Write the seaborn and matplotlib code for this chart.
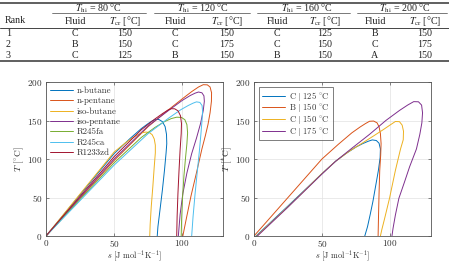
import matplotlib
matplotlib.use("Agg")
import matplotlib.pyplot as plt
import pandas as pd
import seaborn as sns
from matplotlib.lines import Line2D

# ---------------- table data ----------------
rank = [1, 2, 3]
t_hi = [80, 120, 160, 200]
fluid_80 = ["C", "B", "C"]
tcr_80 = [150, 150, 125]
fluid_120 = ["C", "C", "B"]
tcr_120 = [150, 175, 150]
fluid_160 = ["C", "C", "B"]
tcr_160 = [125, 150, 150]
fluid_200 = ["B", "C", "A"]
tcr_200 = [150, 175, 150]

# ---------------- left plot data (T-s domes) ----------------
left_names = ["n-butane", "n-pentane", "iso-butane", "iso-pentane", "R245fa", "R245ca", "R1233zd"]
nbutane_s = [0, 25, 50, 62, 70, 75, 78, 80.5, 83, 85.5, 87.5, 88.5, 88.7, 88.2, 87, 85.5, 83.8, 82.2, 81.7]
nbutane_T = [0, 53.5, 107, 127, 139.5, 146, 149.5, 151.5, 151.2, 148.5, 142, 132, 120, 108, 85, 60, 35, 12, 0]
npentane_s = [0, 25, 50, 75, 90, 100, 107, 112, 115.5, 118.5, 120.5, 121.6, 121.5, 120.5, 119, 117, 114.5, 110.5, 106.5, 103, 100.5]
npentane_T = [0, 49, 98, 142, 164, 178, 187.5, 193.5, 196.5, 196.3, 193.5, 186, 175, 160, 145, 130, 113, 82, 52, 22, 0]
isobutane_s = [0, 25, 50, 58, 64, 68, 71, 73.5, 76, 78, 79.5, 80.3, 80.3, 79.5, 78.5, 77.3, 76.5, 76.2]
isobutane_T = [0, 54.5, 109, 120.5, 128, 132, 134.3, 135, 134.3, 131.5, 126, 118, 108, 90, 65, 38, 15, 0]
isopentane_s = [0, 25, 50, 75, 90, 100, 106, 109.5, 112, 114.5, 116, 116.3, 115.5, 113.5, 110.5, 107, 103.5, 100.5, 98.5, 97.2]
isopentane_T = [0, 50, 100, 143, 163, 176, 182.5, 185.5, 187, 186, 182, 175, 163, 146, 127, 107, 82, 55, 28, 0]
r245fa_s = [0, 25, 50, 70, 80, 87, 92, 96, 99.5, 102, 103.5, 104, 103.5, 102.5, 101.3, 100.3, 99.6, 99.3]
r245fa_T = [0, 47.5, 95, 128, 141, 148.5, 152.5, 154.3, 154, 151, 144.5, 134, 120, 102, 78, 50, 22, 0]
r245ca_s = [0, 25, 50, 75, 90, 99, 104.5, 108, 110.5, 113, 114.6, 115, 114.6, 113.8, 112.8, 111.2, 109.5, 108, 107]
r245ca_T = [0, 46, 92, 133, 153, 164, 169.5, 172.5, 174.2, 173.5, 169.5, 162, 150, 133, 113, 85, 55, 25, 0]
r1233zd_s = [0, 25, 50, 70, 80, 86, 89.5, 92, 94.5, 97, 98.8, 99.5, 99.3, 98.5, 97.7, 96.9, 96.3, 96]
r1233zd_T = [0, 51.5, 103, 138, 152, 159.5, 163.5, 165.3, 165.2, 162.5, 156, 146, 133, 112, 85, 55, 25, 0]

# ---------------- right plot data ----------------
right_names = ["C | 125 °C", "B | 150 °C", "C | 150 °C", "C | 175 °C"]
c125_s = [1.5, 25, 50, 60, 68, 75, 80, 84, 87, 90, 92, 93, 92.8, 91.5, 89.5, 87.5, 85.5, 83.5, 81.5]
c125_T = [0, 39, 81, 97, 107.5, 115.5, 120, 123, 124.8, 124, 120.5, 113, 102, 85, 65, 45, 28, 12, 0]
b150_s = [0, 25, 50, 62, 72, 78, 82, 85, 88, 90.5, 92, 93, 93.5, 93.2, 92.5, 92, 91.6, 91.3]
b150_T = [0, 50, 100, 119, 134, 141.5, 146, 149, 149.3, 147, 142, 133, 120, 105, 85, 55, 25, 0]
c150_s = [2, 25, 50, 60, 70, 80, 88, 95, 100, 104, 107, 109, 110, 109.8, 107.8, 104, 99.7, 96, 94, 93]
c150_T = [0, 38, 81, 97, 110, 121, 130, 138, 144, 148.7, 148.5, 144, 136, 125, 113, 85, 49, 22, 8, 0]
c175_s = [2.5, 25, 50, 60, 72, 85, 97, 107, 113, 117.5, 121, 123.3, 124, 123.5, 122, 119.5, 114.5, 110.7, 106.6, 104, 102.3, 101.5]
c175_T = [0, 37.5, 80.5, 97, 114, 132, 150, 163, 170, 174.5, 174.3, 170, 160, 147, 132, 113, 90, 70, 49, 27, 10, 0]

matlab_colors = ["#0072BD", "#D95319", "#EDB120", "#7E2F8E", "#77AC30", "#4DBEEE", "#A2142F"]


def frame(names, curves):
    parts = []
    for name, (s, T) in zip(names, curves):
        parts.append(pd.DataFrame({"s": s, "T": T, "fluid": name, "idx": range(len(s))}))
    return pd.concat(parts, ignore_index=True)


df_left = frame(left_names, [(nbutane_s, nbutane_T), (npentane_s, npentane_T),
                             (isobutane_s, isobutane_T), (isopentane_s, isopentane_T),
                             (r245fa_s, r245fa_T), (r245ca_s, r245ca_T), (r1233zd_s, r1233zd_T)])
df_right = frame(right_names, [(c125_s, c125_T), (b150_s, b150_T), (c150_s, c150_T), (c175_s, c175_T)])

sns.set_style("ticks")
plt.rcParams["font.family"] = ["cmr10", "DejaVu Serif"]
plt.rcParams["mathtext.fontset"] = "cm"
plt.rcParams["axes.formatter.use_mathtext"] = True

W, H = 449, 261
fig = plt.figure(figsize=(W / 100, H / 100), dpi=100)


def fx(x):
    return x / W


def fy(y):
    return 1 - y / H


# ---------------- table ----------------
tfont = dict(family=["Liberation Serif", "DejaVu Serif"], math_fontfamily="stix", fontsize=7.2, color="#222222")


def hline(x0, x1, y, lw):
    fig.add_artist(Line2D([fx(x0), fx(x1)], [fy(y), fy(y)], color="#444444", lw=lw))


hline(0, 449, 3.3, 1.2)
hline(0, 449, 27.8, 0.7)
hline(0, 449, 61.3, 1.2)
group_spans = [(52, 146), (154, 250), (257, 350), (357, 447)]
group_centers = [98, 203, 307, 405]
fluid_x = [75, 175, 277, 375]
tcr_x = [125, 227, 325, 425]
for (a, b) in group_spans:
    hline(a, b, 13.3, 0.5)
for th, cx in zip(t_hi, group_centers):
    fig.text(fx(cx), fy(8.6), r"$T_{\mathrm{hi}}$ = %d °C" % th, ha="center", va="center", **tfont)
fig.text(fx(5), fy(20.8), "Rank", ha="left", va="center", **tfont)
for x in fluid_x:
    fig.text(fx(x), fy(21.3), "Fluid", ha="center", va="center", **tfont)
for x in tcr_x:
    fig.text(fx(x), fy(21.3), r"$T_{\mathrm{cr}}$ [°C]", ha="center", va="center", **tfont)
row_y = [33.4, 44.6, 55.7]
fluid_cols = [fluid_80, fluid_120, fluid_160, fluid_200]
tcr_cols = [tcr_80, tcr_120, tcr_160, tcr_200]
for i, ry in enumerate(row_y):
    fig.text(fx(6), fy(ry), str(rank[i]), ha="left", va="center", **tfont)
    for k in range(4):
        fig.text(fx(fluid_x[k]), fy(ry), fluid_cols[k][i], ha="center", va="center", **tfont)
        fig.text(fx(tcr_x[k]), fy(ry), str(tcr_cols[k][i]), ha="center", va="center", **tfont)

# ---------------- plots ----------------
AX_BOTTOM = 236
ax1 = fig.add_axes([fx(46), fy(AX_BOTTOM), fx(223) - fx(46), fy(82) - fy(AX_BOTTOM)])
ax2 = fig.add_axes([fx(254), fy(AX_BOTTOM), fx(430.7) - fx(254), fy(82) - fy(AX_BOTTOM)])

sns.lineplot(data=df_left, x="s", y="T", hue="fluid", hue_order=left_names,
             palette=matlab_colors[:7], sort=False, estimator=None, units="fluid",
             linewidth=0.7, ax=ax1)
sns.lineplot(data=df_right, x="s", y="T", hue="fluid", hue_order=right_names,
             palette=matlab_colors[:4], sort=False, estimator=None, units="fluid",
             linewidth=0.7, ax=ax2)

for ax in (ax1, ax2):
    ax.set_xlim(0, 130)
    ax.set_ylim(0, 200)
    ax.set_xticks([0, 50, 100])
    ax.set_yticks([0, 50, 100, 150, 200])
    ax.grid(True, color="#e2e2e2", lw=0.5)
    ax.set_axisbelow(True)
    for sp in ax.spines.values():
        sp.set_visible(True)
        sp.set_color("#555555")
        sp.set_linewidth(0.6)
    ax.tick_params(direction="in", length=2.5, width=0.5, colors="#555555",
                   labelcolor="#333333", labelsize=6.6, top=True, right=True, pad=2.5)
    ax.tick_params(axis="x", pad=1.2)
    ax.set_xlabel(r"$s\ [\mathrm{J\ mol}^{-1}\mathrm{K}^{-1}]$", fontsize=6.0, color="#333333")
    ax.set_ylabel(r"$T\ [{}^{\circ}\mathrm{C}]$", fontsize=6.8, color="#333333")
    ax.xaxis.set_label_coords(0.5, -0.08)
    ax.yaxis.set_label_coords(-0.115, 0.5)

h1, l1 = ax1.get_legend_handles_labels()
ax1.legend(h1, l1, loc="upper left", frameon=False, fontsize=6.4, handlelength=2.5,
           handletextpad=0.5, labelspacing=0.22, borderaxespad=0.3, borderpad=0.2,
           labelcolor="#333333")
h2, l2 = ax2.get_legend_handles_labels()
right_labels = [r"$\mathrm{C}\ |\ \mathrm{125}\ {}^{\circ}\mathrm{C}$", r"$\mathrm{B}\ |\ \mathrm{150}\ {}^{\circ}\mathrm{C}$",
                r"$\mathrm{C}\ |\ \mathrm{150}\ {}^{\circ}\mathrm{C}$", r"$\mathrm{C}\ |\ \mathrm{175}\ {}^{\circ}\mathrm{C}$"]
leg2 = ax2.legend(h2, right_labels,
                  loc="upper left", frameon=True, fancybox=False, fontsize=6.2, handlelength=2.7,
                  handletextpad=0.5, labelspacing=-0.15, borderaxespad=0.6, borderpad=0.3,
                  labelcolor="#333333")
leg2.get_frame().set_edgecolor("#444444")
leg2.get_frame().set_linewidth(0.6)

fig.savefig("out.png", dpi=100)
